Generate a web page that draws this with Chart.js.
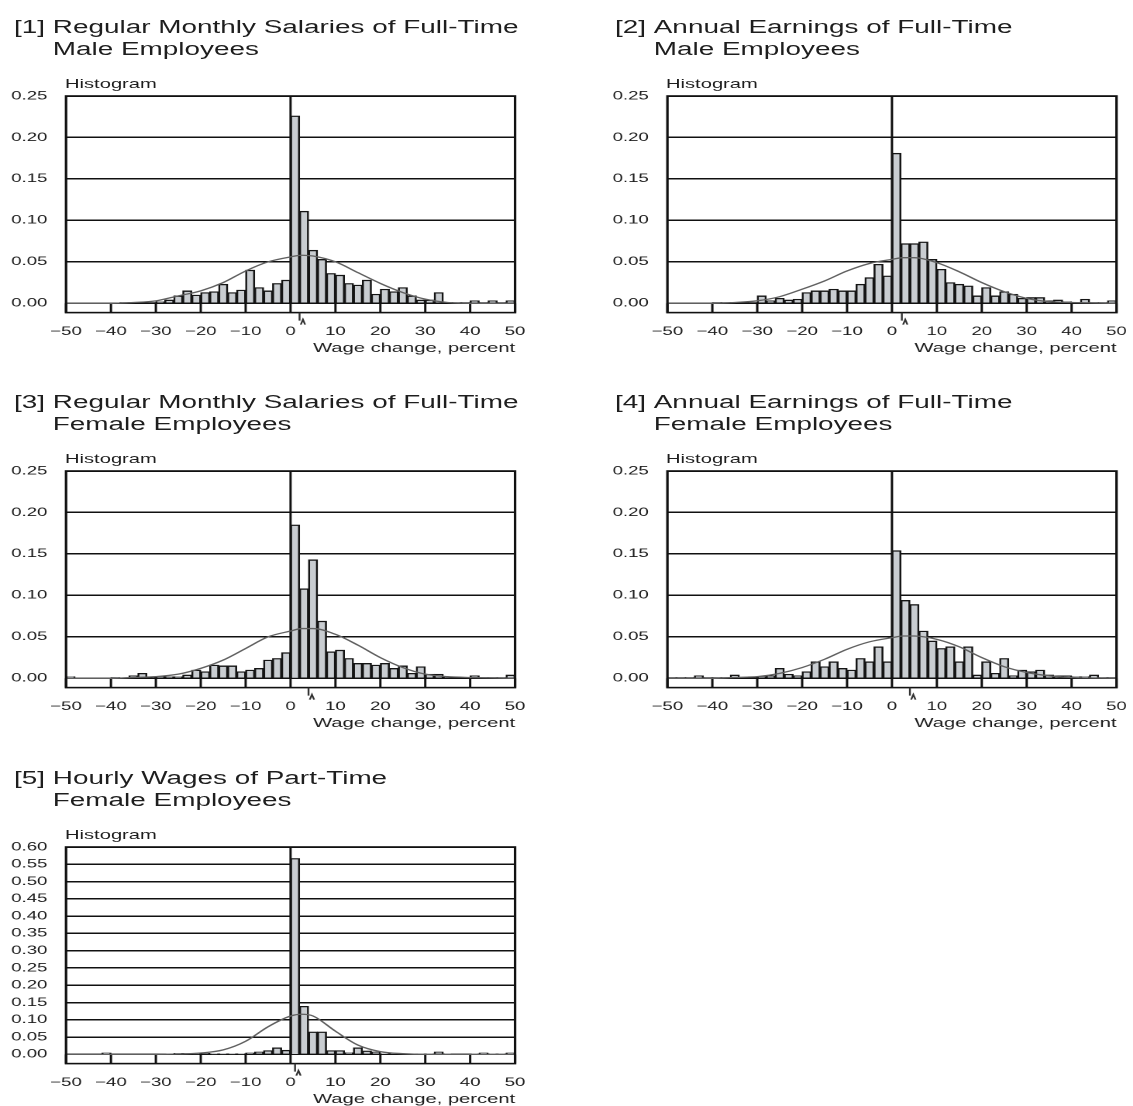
<!DOCTYPE html>
<html>
<head>
<meta charset="utf-8">
<script src="https://cdn.jsdelivr.net/npm/chart.js@4.4.1/dist/chart.umd.min.js"></script>
<style>
html,body{margin:0;padding:0;background:#fff;overflow:hidden;}
#page{position:absolute;left:0;top:0;width:731px;height:1106px;transform:scaleX(1.55);transform-origin:0 0;font-family:"Liberation Sans",Arial,sans-serif;color:#1e1e1e;}
.title{position:absolute;display:flex;font-size:18px;line-height:22px;white-space:nowrap;}
.title .num{margin-right:5px;}
.hist{position:absolute;font-size:13px;line-height:13px;white-space:nowrap;}
.box{position:absolute;width:345px;height:270px;}
</style>
</head>
<body>
<div id="page"></div>
<script>
// ---------------- DATA ----------------
const binCenters = [-49,-47,-45,-43,-41,-39,-37,-35,-33,-31,-29,-27,-25,-23,-21,-19,-17,-15,-13,-11,-9,-7,-5,-3,-1,
                    1,3,5,7,9,11,13,15,17,19,21,23,25,27,29,31,33,35,37,39,41,43,45,47,49];
const xTickValues = [-50,-40,-30,-20,-10,0,10,20,30,40,50];
const yTicksSmall = [0,0.05,0.10,0.15,0.20,0.25];
const yTicksLarge = [0,0.05,0.10,0.15,0.20,0.25,0.30,0.35,0.40,0.45,0.50,0.55,0.60];
const curveX = [-50,-40,-35,-30,-25,-20,-15,-10,-5,0,2.5,5,10,15,20,25,30,35,40,50];

const titles = [
  ["[1]","Regular Monthly Salaries of Full-Time","Male Employees"],
  ["[2]","Annual Earnings of Full-Time","Male Employees"],
  ["[3]","Regular Monthly Salaries of Full-Time","Female Employees"],
  ["[4]","Annual Earnings of Full-Time","Female Employees"],
  ["[5]","Hourly Wages of Part-Time","Female Employees"]
];
const yLabel = "Histogram";
const xLabel = "Wage change, percent";

const hist1 = [0,0,0,0,0, 0,0.001,0.001,0.001,0.001, 0.002,0.004,0.009,0.015,0.010, 0.013,0.014,0.023,0.013,0.016, 0.040,0.019,0.015,0.024,0.028,
               0.226,0.111,0.064,0.053,0.036, 0.034,0.024,0.022,0.028,0.011, 0.017,0.014,0.019,0.009,0.004, 0.004,0.013,0.001,0.001,0.001, 0.003,0.001,0.003,0.001,0.003];
const hist2 = [0,0,0,0,0, 0.001,0.001,0.001,0.001,0.001, 0.009,0.003,0.006,0.004,0.005, 0.013,0.015,0.015,0.017,0.015, 0.015,0.023,0.031,0.047,0.033,
               0.181,0.072,0.072,0.074,0.053, 0.041,0.025,0.023,0.021,0.009, 0.019,0.009,0.014,0.011,0.006, 0.007,0.007,0.003,0.004,0.002, 0.001,0.005,0.001,0.001,0.003];
const hist3 = [0.002,0,0,0,0, 0.001,0,0.003,0.006,0.002, 0.002,0.002,0.002,0.004,0.010, 0.008,0.016,0.015,0.015,0.008, 0.010,0.012,0.022,0.024,0.031,
               0.185,0.108,0.143,0.069,0.032, 0.034,0.024,0.018,0.018,0.016, 0.018,0.012,0.015,0.006,0.014, 0.005,0.005,0.002,0.001,0.001, 0.003,0.001,0.001,0.001,0.004];
const hist4 = [0.001,0.001,0.001,0.003,0.001, 0.001,0.001,0.004,0.001,0.002, 0.002,0.003,0.012,0.005,0.003, 0.008,0.020,0.014,0.020,0.012, 0.010,0.024,0.020,0.038,0.020,
               0.154,0.094,0.089,0.057,0.045, 0.036,0.038,0.020,0.038,0.004, 0.020,0.006,0.024,0.003,0.010, 0.008,0.010,0.004,0.003,0.003, 0.002,0.002,0.004,0.001,0.001];
const hist5 = [0,0,0,0,0.004, 0,0,0,0,0, 0,0.001,0.003,0.003,0.001, 0.003,0.001,0.001,0.001,0.001, 0.004,0.007,0.011,0.019,0.012,
               0.567,0.139,0.065,0.065,0.011, 0.011,0.005,0.019,0.010,0.007, 0.002,0.002,0.002,0.001,0.001, 0.001,0.007,0.001,0,0, 0.001,0.004,0.001,0.001,0.004];

const curve1 = [0,0,0.001,0.003,0.009,0.015,0.025,0.039,0.050,0.056,0.058,0.057,0.050,0.037,0.024,0.013,0.005,0.001,0,0];
const curve2 = [0,0,0.001,0.003,0.008,0.017,0.027,0.039,0.048,0.053,0.055,0.055,0.049,0.038,0.025,0.014,0.006,0.002,0.001,0];
const curve3 = [0,0,0.001,0.002,0.005,0.012,0.022,0.036,0.050,0.057,0.060,0.060,0.053,0.040,0.025,0.013,0.005,0.002,0.001,0];
const curve4 = [0,0,0.001,0.002,0.006,0.013,0.023,0.035,0.044,0.049,0.051,0.051,0.047,0.038,0.025,0.014,0.007,0.003,0.001,0];
const curve5 = [0,0,0,0,0.001,0.004,0.013,0.038,0.080,0.111,0.116,0.111,0.067,0.027,0.008,0.002,0,0,0,0];

const markerValues = [2, 2.2, 4, 4, 1];

// ---------------- LAYOUT ----------------
const S = 1.55;
const colX = [0, 601 / S];
const rowY = [0, 375, 751];
const panels = [
  {col:0,row:0,hist:hist1,curve:curve1,yt:yTicksSmall,ymin:-0.0112,ymax:0.25},
  {col:1,row:0,hist:hist2,curve:curve2,yt:yTicksSmall,ymin:-0.0112,ymax:0.25},
  {col:0,row:1,hist:hist3,curve:curve3,yt:yTicksSmall,ymin:-0.0112,ymax:0.25},
  {col:1,row:1,hist:hist4,curve:curve4,yt:yTicksSmall,ymin:-0.0112,ymax:0.25},
  {col:0,row:2,hist:hist5,curve:curve5,yt:yTicksLarge,ymin:-0.0267,ymax:0.60}
];

const frameLeft = 42.6, padTop = 8, padRight = 12.7, xAxisH = 45.4;
const fontFam = '"Liberation Sans", Arial, sans-serif';
const ink = '#1e1e1e';

const framePlugin = {
  id: 'frame',
  beforeDatasetsDraw(chart, args, opts) {
    const ca = chart.chartArea, x = chart.scales.x, y = chart.scales.y, ctx = chart.ctx;
    ctx.save();
    ctx.strokeStyle = '#111';
    ctx.lineWidth = 1.5;
    const y0 = y.getPixelForValue(0);
    ctx.beginPath();
    xTickValues.forEach(v => {
      const px = x.getPixelForValue(v);
      if (v === 0) { ctx.moveTo(px, ca.top); ctx.lineTo(px, ca.bottom); }
      else { ctx.moveTo(px, ca.bottom); ctx.lineTo(px, y0); }
    });
    ctx.stroke();
    ctx.restore();
  },
  afterDatasetsDraw(chart, args, opts) {
    const ca = chart.chartArea, x = chart.scales.x, ctx = chart.ctx;
    ctx.save();
    ctx.strokeStyle = '#111';
    ctx.lineWidth = 1.6;
    ctx.strokeRect(ca.left, ca.top, ca.right - ca.left, ca.bottom - ca.top);
    const m = x.getPixelForValue(opts.marker);
    ctx.lineWidth = 1.2;
    ctx.strokeStyle = '#333';
    ctx.beginPath();
    ctx.moveTo(m, ca.bottom); ctx.lineTo(m, ca.bottom + 8);
    ctx.moveTo(m + 0.8, ca.bottom + 12); ctx.lineTo(m + 2.2, ca.bottom + 7); ctx.lineTo(m + 3.6, ca.bottom + 12);
    ctx.stroke();
    ctx.restore();
  }
};

const page = document.getElementById('page');
panels.forEach((p, idx) => {
  const left = colX[p.col], top = rowY[p.row];
  const t = document.createElement('div');
  t.className = 'title';
  t.style.left = (left + 14 / S) + 'px';
  t.style.top = (top + 16.2) + 'px';
  t.innerHTML = '<span class="num">' + titles[idx][0] + '</span><span>' + titles[idx][1] + '<br>' + titles[idx][2] + '</span>';
  page.appendChild(t);

  const h = document.createElement('div');
  h.className = 'hist';
  h.style.left = (left + 65 / S) + 'px';
  h.style.top = (top + 77) + 'px';
  h.textContent = yLabel;
  page.appendChild(h);

  const box = document.createElement('div');
  box.className = 'box';
  box.style.left = left + 'px';
  box.style.top = (top + 88) + 'px';
  const cv = document.createElement('canvas');
  box.appendChild(cv);
  page.appendChild(box);

  new Chart(cv, {
    type: 'bar',
    data: {
      datasets: [
        {
          type: 'line',
          data: curveX.map((xv, i) => ({x: xv, y: p.curve[i]})),
          borderColor: '#606060',
          borderWidth: 1.3,
          pointRadius: 0,
          cubicInterpolationMode: 'monotone',
          fill: false,
          order: 0
        },
        {
          type: 'bar',
          data: binCenters.map((xv, i) => ({x: xv, y: p.hist[i]})),
          backgroundColor: '#c9cdd1',
          borderColor: '#151515',
          borderWidth: 1.3,
          barPercentage: 1,
          categoryPercentage: 1,
          order: 1
        }
      ]
    },
    options: {
      responsive: true,
      maintainAspectRatio: false,
      devicePixelRatio: 2,
      animation: false,
      events: [],
      layout: {padding: {top: padTop, right: padRight, left: 0, bottom: 0}},
      plugins: {legend: {display: false}, tooltip: {enabled: false}, frame: {marker: markerValues[idx]}},
      scales: {
        x: {
          type: 'linear',
          min: -50, max: 50,
          offset: false,
          grid: {display: false, offset: false},
          border: {display: false},
          afterBuildTicks: s => { s.ticks = xTickValues.map(v => ({value: v})); },
          afterFit: s => { s.height = xAxisH; },
          ticks: {
            autoSkip: false, maxRotation: 0, padding: 4,
            color: ink, font: {family: fontFam, size: 12},
            callback: v => (v < 0 ? '\u2212' + Math.abs(v) : String(v))
          },
          title: {display: true, text: xLabel, align: 'end', color: ink,
                  font: {family: fontFam, size: 13}, padding: {top: 0, bottom: 2}}
        },
        y: {
          type: 'linear',
          min: p.ymin, max: p.ymax,
          grid: {color: '#111', lineWidth: 1.5, drawTicks: true, tickLength: 12, tickColor: 'rgba(0,0,0,0)'},
          border: {display: false},
          afterBuildTicks: s => { s.ticks = p.yt.map(v => ({value: v})); },
          afterFit: s => { s.width = frameLeft; },
          ticks: {padding: 0, autoSkip: false, color: ink, font: {family: fontFam, size: 12},
                  callback: v => Number(v).toFixed(2)}
        }
      }
    },
    plugins: [framePlugin]
  });
});
</script>
</body>
</html>
